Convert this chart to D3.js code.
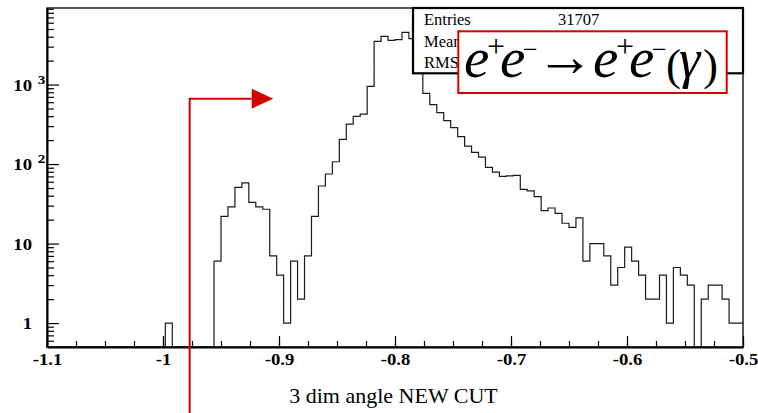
<!DOCTYPE html>
<html>
<head>
<meta charset="utf-8">
<script src="https://cdn.jsdelivr.net/npm/d3@7"></script>
<style>
  body { margin: 0; background: #fff; }
  svg { display: block; }
</style>
</head>
<body>
<svg id="chart" width="758" height="413"></svg>
<script>
// --- Data ---
const binLow = -1.1;
const binWidth = 0.006;
const counts = [
  0, 0, 0, 0, 0, 0, 0, 0, 0, 0,
  0, 0, 0, 0, 0, 0, 0, 1, 0, 0,
  0, 0, 0, 0, 6, 22, 29, 51, 58, 33,
  29, 27, 7, 4, 1, 6, 2, 7, 22, 53,
  75, 107, 205, 318, 398, 425, 949, 3490, 4040, 3600,
  3670, 4540, 3780, 1585, 775, 559, 443, 352, 287, 221,
  168, 140, 122, 91, 79, 70, 71, 72, 48, 46,
  39, 26, 28, 24, 18, 16, 21, 6, 10, 10,
  7, 3, 5, 9, 6, 4, 2, 2, 4, 1,
  5, 4, 3, 0, 2, 3, 3, 2, 1, 1
];
const xMajorTicks = [-1.1, -1, -0.9, -0.8, -0.7, -0.6, -0.5];
const xTickLabels = ["-1.1", "-1", "-0.9", "-0.8", "-0.7", "-0.6", "-0.5"];
const yMajorTicks = [1, 10, 100, 1000];
const yTickLabels = [["1", ""], ["10", ""], ["10", "2"], ["10", "3"]];
const statsRows = [["Entries", "31707"], ["Mean", ""], ["RMS", ""]];
const xTitle = "3 dim angle NEW CUT";
const cutX = -0.977, arrowTipX = -0.905, arrowHeadX = -0.9235, arrowY = 665;

const svg = d3.select("#chart");
const W = 758, H = 413;
const red = "#d40000";
const serif = "'Liberation Serif', 'Times New Roman', Times, serif";

// --- Scales ---
const x = d3.scaleLinear().domain([-1.1, -0.5]).range([47, 743]);
const y = d3.scaleLog().domain([0.5, 9185]).range([347, 8]);
const [yBottom, yTop] = y.range();

svg.append("rect").attr("width", W).attr("height", H).attr("fill", "#fff");

// --- Histogram ---
const pts = [[x(binLow), yBottom]];
counts.forEach((c, i) => {
  const yy = c > 0 ? y(c) : yBottom;
  pts.push([x(binLow + i * binWidth), yy]);
  pts.push([x(binLow + (i + 1) * binWidth), yy]);
});
svg.append("path")
  .attr("d", d3.line()(pts))
  .attr("fill", "none")
  .attr("stroke", "#1a1a1a")
  .attr("stroke-width", 1.2);

// --- Frame ---
svg.append("rect")
  .attr("x", 47).attr("y", yTop)
  .attr("width", 743 - 47).attr("height", yBottom - yTop)
  .attr("fill", "none").attr("stroke", "#000").attr("stroke-width", 1.3);

// --- X axis ---
const xMinor = d3.range(0, 25).map(i => +(-1.1 + i * 0.025).toFixed(3));
svg.append("g")
  .attr("transform", `translate(0,${yBottom})`)
  .call(d3.axisBottom(x).tickValues(xMinor).tickSize(-6).tickSizeOuter(0).tickFormat(""))
  .call(g => g.select(".domain").remove())
  .selectAll("line").attr("stroke", "#000").attr("stroke-width", 1.2);

const xAx = svg.append("g")
  .attr("transform", `translate(0,${yBottom})`)
  .call(d3.axisBottom(x).tickValues(xMajorTicks).tickSize(-11).tickSizeOuter(0)
    .tickFormat((d, i) => xTickLabels[i]));
xAx.select(".domain").attr("stroke", "#000").attr("stroke-width", 2.2);
xAx.selectAll("line").attr("stroke", "#000").attr("stroke-width", 1.2);
xAx.selectAll("text")
  .attr("y", 18).attr("dy", 0)
  .attr("transform", "scale(1.17,1)")
  .attr("font-family", serif)
  .attr("font-weight", "bold")
  .attr("font-size", 16)
  .attr("fill", "#000");

// --- Y axis ---
const yMinor = [];
[-1, 0, 1, 2, 3].forEach(p => {
  for (let m = 2; m <= 9; m++) {
    const v = m * Math.pow(10, p);
    if (v > 0.5 && v < 9185) yMinor.push(v);
  }
});
svg.append("g")
  .attr("transform", "translate(47,0)")
  .call(d3.axisLeft(y).tickValues(yMinor).tickSize(-7).tickSizeOuter(0).tickFormat(""))
  .call(g => g.select(".domain").remove())
  .selectAll("line").attr("stroke", "#000").attr("stroke-width", 1.2);

const yAx = svg.append("g")
  .attr("transform", "translate(47,0)")
  .call(d3.axisLeft(y).tickValues(yMajorTicks).tickSize(-12).tickSizeOuter(0).tickFormat(""));
yAx.select(".domain").attr("stroke", "#000").attr("stroke-width", 2);
yAx.selectAll("line").attr("stroke", "#000").attr("stroke-width", 1.2);

const yLab = svg.append("g")
  .attr("font-family", serif)
  .attr("font-weight", "bold")
  .attr("fill", "#000");
yMajorTicks.forEach((v, i) => {
  const [base, sup] = yTickLabels[i];
  const g = yLab.append("g").attr("transform", `translate(32,${y(v) + 6}) scale(1.17,1)`);
  g.append("text").attr("text-anchor", "end").attr("font-size", 16).text(base);
  if (sup) {
    g.append("text").attr("x", 5).attr("y", -7).attr("font-size", 13).text(sup);
  }
});

// --- X title ---
svg.append("text")
  .attr("x", (x.range()[0] + x.range()[1]) / 2 - 1.5)
  .attr("y", 402.7)
  .attr("text-anchor", "middle")
  .attr("font-family", serif)
  .attr("font-size", 22)
  .text(xTitle);

// --- Stats box ---
svg.append("rect")
  .attr("x", 413).attr("y", 8).attr("width", 330).attr("height", 65.3)
  .attr("fill", "#fff").attr("stroke", "#000").attr("stroke-width", 2.2);
const stats = svg.append("g")
  .attr("font-family", serif)
  .attr("font-size", 16.5);
statsRows.forEach(([k, v], i) => {
  stats.append("text").attr("x", 424).attr("y", 25 + i * 21.7).text(k);
  if (v) stats.append("text").attr("x", 558).attr("y", 25 + i * 21.7).text(v);
});

// --- Cut arrow ---
svg.append("path")
  .attr("d", `M${x(cutX)},${H}L${x(cutX)},${y(arrowY)}L${x(arrowHeadX)},${y(arrowY)}`)
  .attr("fill", "none").attr("stroke", red).attr("stroke-width", 2);
svg.append("path")
  .attr("d", `M${x(arrowHeadX)},${y(arrowY) - 10}L${x(arrowTipX)},${y(arrowY)}L${x(arrowHeadX)},${y(arrowY) + 10}Z`)
  .attr("fill", red);

// --- Process label ---
svg.append("rect")
  .attr("x", 458.3).attr("y", 31.3).attr("width", 268.4).attr("height", 61.7)
  .attr("fill", "#fff").attr("stroke", red).attr("stroke-width", 2);

const formula = [
  { t: "e", x: 464, y: 77.3, s: 57, it: true },
  { t: "+", x: 487, y: 57, s: 32 },
  { t: "e", x: 500, y: 77.3, s: 57, it: true },
  { t: "\u2212", x: 523, y: 58, s: 26 },
  { t: "\u2192", x: 536, y: 75.5, s: 58 },
  { t: "e", x: 593, y: 77.3, s: 57, it: true },
  { t: "+", x: 616, y: 57, s: 32 },
  { t: "e", x: 629, y: 77.3, s: 57, it: true },
  { t: "\u2212", x: 652, y: 58, s: 26 },
  { t: "(", x: 666, y: 80, s: 45 },
  { t: "\u03b3", x: 679, y: 77.3, s: 54, it: true },
  { t: ")", x: 703, y: 80, s: 45 }
];
svg.append("text")
  .attr("font-family", serif)
  .attr("fill", "#000")
  .selectAll("tspan")
  .data(formula)
  .join("tspan")
  .attr("x", d => d.x)
  .attr("y", d => d.y)
  .attr("font-size", d => d.s)
  .attr("font-style", d => d.it ? "italic" : "normal")
  .text(d => d.t);
</script>
</body>
</html>
